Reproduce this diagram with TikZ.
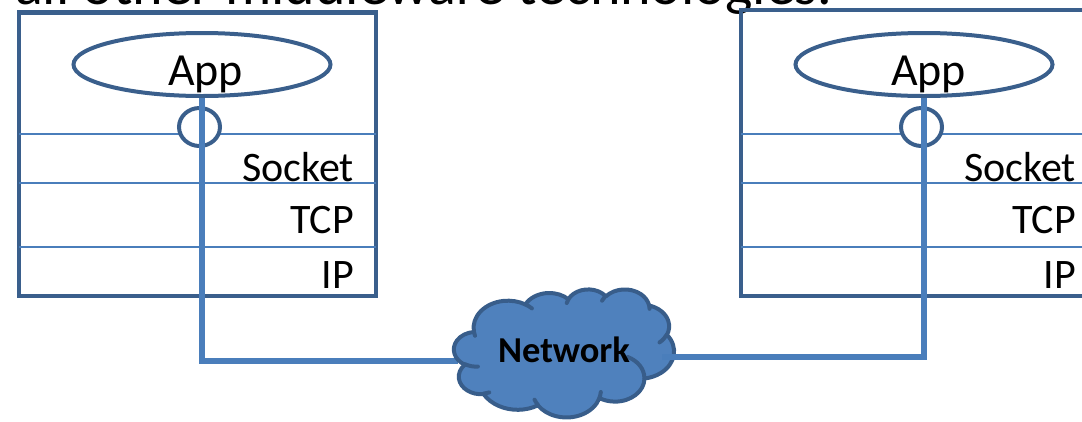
\documentclass[tikz,border=0pt]{standalone}
\usepackage{fontspec}
\setmainfont{Carlito}
\usetikzlibrary{shapes.geometric}

\definecolor{frameblue}{HTML}{3A5F8C}
\definecolor{lineblue}{HTML}{4A7EBB}
\definecolor{cloudfill}{HTML}{4F81BD}
\definecolor{cloudedge}{HTML}{385D8A}

% Cloud outline built from elliptical arcs on a 432 x 432 grid.
% Arguments: x radius, y radius, start angle, sweep (angles measured on the ellipse as seen).
\newcommand\cloudsx{0.50926}
\newcommand\cloudsy{0.29630}
\newcommand\cloudarc[4]{arc[x radius={#1*\cloudsx pt}, y radius={#2*\cloudsy pt},
  start angle={-atan2(#1*sin(#3),#2*cos(#3))},
  delta angle={-mod(atan2(#1*sin(#3+#4),#2*cos(#3+#4))-atan2(#1*sin(#3),#2*cos(#3))+720,360)}]}

\tikzset{
  framebox/.style={draw=frameblue, line width=4.5pt},
  layerline/.style={draw=lineblue, line width=2pt},
  appshape/.style={ellipse, draw=frameblue, line width=4pt, inner sep=0pt,
    minimum width=257pt, minimum height=63pt},
  sockshape/.style={ellipse, draw=frameblue, fill=white, line width=4pt, inner sep=0pt,
    minimum width=41pt, minimum height=38pt},
  apptext/.style={anchor=base, inner sep=0pt, font=\fontsize{46}{46}\selectfont},
  layertext/.style={anchor=base east, inner sep=0pt, font=\fontsize{42}{42}\selectfont},
  nettext/.style={anchor=base, inner sep=0pt, font=\fontsize{36.5}{36.5}\selectfont\bfseries},
  titletext/.style={anchor=base west, inner sep=0pt, font=\fontsize{58}{58}\selectfont},
  wire/.style={draw=lineblue, line width=5.5pt, line join=miter},
  cloudshape/.style={fill=cloudfill, draw=cloudedge, line width=4pt, line join=round},
  cloudline/.style={draw=cloudedge, line width=4pt, line cap=round},
}

\begin{document}
\begin{tikzpicture}[x=1pt, y=1pt]
\useasboundingbox (0,0) rectangle (1082,-421);
\clip (0,0) rectangle (1082,-421);

% heading line running above the picture
\node[titletext] (title) at (15,-4.5) {all other middleware technologies.};

% left host: protocol stack
\draw[framebox] (19,-12.5) rectangle (376,-296);
\draw[layerline] (19,-134) -- (376,-134);
\draw[layerline] (19,-183) -- (376,-183);
\draw[layerline] (19,-247) -- (376,-247);
\node[appshape] (appL) at (202,-64.5) {};
\node[apptext] (appLt) at (205.5,-85) {App};
\node[sockshape] (sockL) at (199.5,-127) {};
\node[layertext] (sockLt) at (354,-181.5) {Socket};
\node[layertext] (tcpL) at (354,-233) {TCP};
\node[layertext] (ipL) at (354,-288) {IP};

% right host: protocol stack
\draw[framebox] (741,-10) rectangle (1100,-296);
\draw[layerline] (741,-134) -- (1100,-134);
\draw[layerline] (741,-183) -- (1100,-183);
\draw[layerline] (741,-247) -- (1100,-247);
\node[appshape] (appR) at (924,-64.5) {};
\node[apptext] (appRt) at (928.5,-85) {App};
\node[sockshape] (sockR) at (921.5,-127) {};
\node[layertext] (sockRt) at (1076,-181.5) {Socket};
\node[layertext] (tcpR) at (1076,-233) {TCP};
\node[layertext] (ipR) at (1076,-288) {IP};

% ends of the links at the cloud
\coordinate (netL) at (458,-361);
\coordinate (netR) at (662,-357);

% link from the left application down into the network
\draw[wire] (appL.south) -- (appL.south |- netL) -- (netL);

% network cloud
\begin{scope}[shift={(454,-289)}, x=0.50926pt, y=-0.29630pt]
  \path[cloudshape] (39,143.7)
    \cloudarc{67.53}{91.90}{-190.4875}{123.7805}
    \cloudarc{53.33}{72.67}{-144.1024}{89.9452}
    \cloudarc{43.65}{59.45}{-145.8079}{99.7230}
    \cloudarc{48.57}{65.95}{-130.9861}{117.2417}
    \cloudarc{53.33}{72.73}{-78.7089}{109.0269}
    \cloudarc{67.75}{92.20}{-46.2673}{130.2690}
    \cloudarc{57.85}{78.67}{0.6250}{114.0333}
    \cloudarc{67.52}{92.15}{22.4516}{115.1726}
    \cloudarc{77.20}{105.43}{66.2426}{75.7110}
    \cloudarc{43.60}{59.18}{-274.9421}{146.7356}
    \cloudarc{43.45}{59.45}{-246.8285}{152.5189}
    -- cycle;
  \path[cloudline]
    (46.93,261.77) \cloudarc{43.45}{59.45}{86.7420}{26.4295}
    (69.28,348.99) \cloudarc{43.60}{59.18}{73.6105}{11.4475}
    (164.78,390.90) \cloudarc{67.53}{91.90}{137.6242}{14.0811}
    (288.27,347.51) \cloudarc{67.52}{92.15}{6.4533}{15.9984}
    (341.29,229.54) \cloudarc{57.85}{78.67}{-70.2924}{70.9174}
    (417.98,153.54) \cloudarc{53.33}{72.73}{30.3180}{27.7515}
    (383.24,54.26) \cloudarc{48.57}{65.95}{-13.7443}{14.8589}
    (290.78,39.52) \cloudarc{48.57}{65.95}{-149.1815}{18.1954}
    (221.41,47.20) \cloudarc{43.65}{59.45}{-163.4943}{17.6864}
    (140.00,51.92) \cloudarc{67.53}{91.90}{-66.7070}{12.3194}
    (41.27,157.89) \cloudarc{67.53}{91.90}{157.6544}{11.8582};
\end{scope}
\node[nettext] (net) at (564,-362) {Network};

% link from the network up to the right application
\draw[wire] (netR) -- (appR.south |- netR) -- (appR.south);
\end{tikzpicture}
\end{document}
